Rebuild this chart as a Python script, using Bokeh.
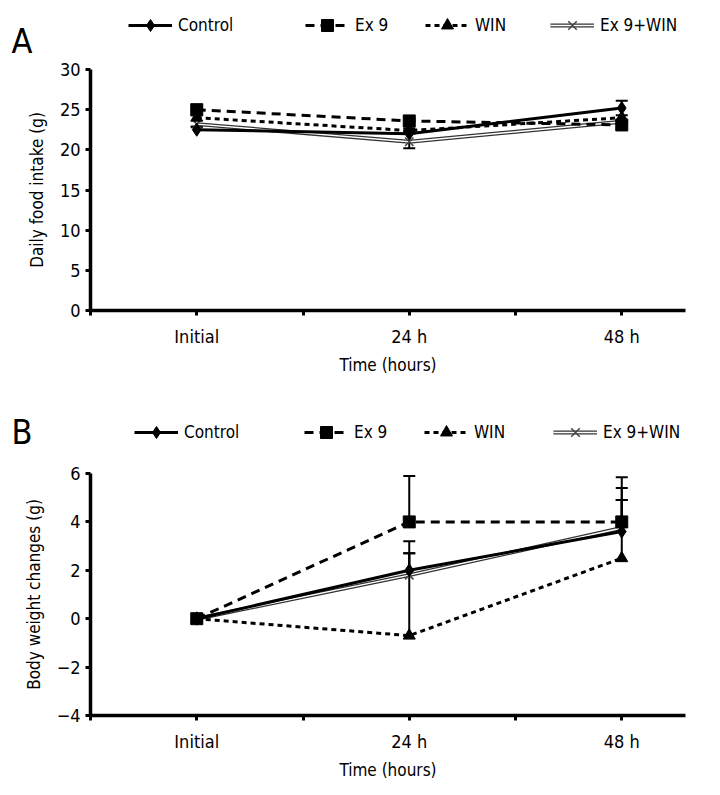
from bokeh.plotting import figure
from bokeh.models import (ColumnDataSource, Whisker, TeeHead, Legend, LegendItem,
                          FixedTicker, Range1d)
from bokeh.layouts import column
from bokeh.embed import file_html
from bokeh.resources import INLINE

FONT = "DejaVu Sans Condensed, Roboto, sans-serif"

categories = ["Initial", "24 h", "48 h"]
series_names = ["Control", "Ex 9", "WIN", "Ex 9+WIN"]

# Panel A: daily food intake (g)
food_control = [22.5, 22.0, 25.2]
food_ex9 = [25.0, 23.6, 23.1]
food_win = [24.0, 22.4, 24.0]
food_ex9win = [23.2, 21.0, 23.5]
food_err_up = {"Control": [0.3, 0.3, 0.9], "Ex 9": [0.3, 0.3, 0.3],
               "WIN": [0.3, 0.3, 0.3], "Ex 9+WIN": [0.0, 0.0, 0.0]}
food_err_down = {"Control": [0.0, 0.0, 0.0], "Ex 9": [0.0, 0.0, 0.0],
                 "WIN": [0.0, 0.0, 0.0], "Ex 9+WIN": [0.3, 0.8, 0.3]}
food_ticks = [0, 5, 10, 15, 20, 25, 30]

# Panel B: body weight changes (g)
bw_control = [0.0, 2.0, 3.6]
bw_ex9 = [0.0, 4.0, 4.0]
bw_win = [0.0, -0.7, 2.5]
bw_ex9win = [0.0, 1.8, 3.75]
bw_err_up = {"Control": [0.0, 1.2, 1.3], "Ex 9": [0.0, 1.9, 1.85],
             "WIN": [0.0, 3.4, 2.4], "Ex 9+WIN": [0.0, 0.9, 1.65]}
bw_err_down = {"Control": [0.0, 0.0, 0.0], "Ex 9": [0.0, 0.0, 0.0],
               "WIN": [0.0, 0.0, 0.0], "Ex 9+WIN": [0.0, 0.0, 0.0]}
bw_ticks = [-4, -2, 0, 2, 4, 6]

x_pos = list(range(len(categories)))
X_END = 2.3

STYLES = {
    "Control": dict(dash="solid", marker="diamond", size=13),
    "Ex 9": dict(dash="9 6", marker="square", size=12),
    "WIN": dict(dash="5 4", marker="triangle", size=12),
    "Ex 9+WIN": dict(dash="solid", marker="x", size=12),
}
BORDER_L, BORDER_R = 90, 19


def draw_series(p, name, src):
    st = STYLES[name]
    rs = []
    if name == "Ex 9+WIN":
        rs.append(p.line("x", "y", source=src, line_color="#333333", line_width=4))
        rs.append(p.line("x", "y", source=src, line_color="white", line_width=1.4))
        rs.append(p.scatter("x", "y", source=src, marker="x", size=st["size"],
                            line_color="#444444", line_width=1.5))
    else:
        rs.append(p.line("x", "y", source=src, line_color="black", line_width=3,
                         line_dash=st["dash"]))
        rs.append(p.scatter("x", "y", source=src, marker=st["marker"], size=st["size"],
                            fill_color="black", line_color="black"))
    return rs


def make_header(letter, series, height, legend_x, legend_y, letter_y):
    # strip above each panel: legend + panel letter (series drawn out of view,
    # only their legend samples show)
    h = figure(width=704, height=height, output_backend="svg", toolbar_location=None,
               x_range=Range1d(-0.5, X_END), y_range=Range1d(100, 100 + height),
               x_axis_location=None, y_axis_location="left",
               min_border_left=BORDER_L, min_border_right=BORDER_R,
               min_border_top=0, min_border_bottom=0)
    h.outline_line_color = None
    h.grid.visible = False
    for name, lx in zip(series_names, legend_x):
        src = ColumnDataSource(dict(x=x_pos, y=series[name]))
        item = LegendItem(label=name, renderers=draw_series(h, name, src))
        lg = Legend(items=[item], location=(lx, legend_y), orientation="horizontal",
                    glyph_width=44, glyph_height=30, label_height=20,
                    label_standoff=6, padding=0, margin=0, spacing=0,
                    border_line_color=None, background_fill_alpha=0,
                    label_text_font=FONT, label_text_font_size="17px",
                    label_text_color="black")
        h.add_layout(lg, "center")
    ya = h.yaxis[0]
    ya.ticker = FixedTicker(ticks=[100 + letter_y])
    ya.major_label_overrides = {100 + letter_y: letter}
    ya.axis_line_color = None
    ya.major_tick_line_color = None
    ya.minor_tick_line_color = None
    ya.major_label_standoff = 52
    ya.major_label_text_font = FONT
    ya.major_label_text_font_size = "34px"
    ya.major_label_text_color = "black"
    return h


def make_panel(series, err_up, err_down, yticks, ylabel, top, fh, bottom):
    p = figure(width=704, height=top + fh + bottom, output_backend="svg",
               toolbar_location=None,
               x_range=Range1d(-0.5, X_END), y_range=Range1d(yticks[0], yticks[-1]),
               min_border_left=BORDER_L, min_border_top=top, min_border_right=BORDER_R,
               min_border_bottom=bottom)
    p.outline_line_color = None
    p.grid.visible = False

    for name in ["Ex 9+WIN", "WIN", "Ex 9", "Control"]:
        vals = series[name]
        draw_series(p, name, ColumnDataSource(dict(x=x_pos, y=vals)))
        # error bars (one-directional, only where present)
        for errs, sign in ((err_up[name], 1), (err_down[name], -1)):
            xs = [x for x, e in zip(x_pos, errs) if e > 0]
            if not xs:
                continue
            base_v = [v for v, e in zip(vals, errs) if e > 0]
            end_v = [v + sign * e for v, e in zip(vals, errs) if e > 0]
            wsrc = ColumnDataSource(dict(x=xs, a=base_v, b=end_v))
            head = TeeHead(size=12, line_color="black", line_width=2)
            if sign > 0:
                w = Whisker(source=wsrc, base="x", lower="a", upper="b", dimension="height",
                            line_color="black", line_width=2, upper_head=head, lower_head=None)
            else:
                w = Whisker(source=wsrc, base="x", lower="b", upper="a", dimension="height",
                            line_color="black", line_width=2, lower_head=head, upper_head=None)
            p.add_layout(w)

    p.xaxis.ticker = FixedTicker(ticks=[-0.5, 0, 0.5, 1, 1.5, 2])
    p.xaxis.major_label_overrides = {0: categories[0], 1: categories[1], 2: categories[2],
                                     -0.5: "", 0.5: "", 1.5: ""}
    p.yaxis.ticker = FixedTicker(ticks=yticks)
    p.yaxis.major_label_overrides = {t: ("\u2212" + str(-t) if t < 0 else str(t)) for t in yticks}
    p.xaxis.axis_label = "Time (hours)"
    p.yaxis.axis_label = ylabel
    for ax in (p.xaxis, p.yaxis):
        ax.axis_line_width = 3.5
        ax.axis_line_color = "black"
        ax.major_tick_line_width = 3
        ax.major_tick_line_color = "black"
        ax.major_tick_out = 5
        ax.major_tick_in = 0
        ax.minor_tick_line_color = None
        ax.major_label_text_font = FONT
        ax.major_label_text_font_size = "18px"
        ax.major_label_text_color = "black"
        ax.axis_label_text_font = FONT
        ax.axis_label_text_font_size = "17px"
        ax.axis_label_text_font_style = "normal"
        ax.axis_label_text_color = "black"
    p.xaxis.major_label_standoff = 10
    p.xaxis.axis_label_standoff = 5
    p.yaxis.major_label_standoff = 5
    p.yaxis.axis_label_standoff = 10
    return p


food = {"Control": food_control, "Ex 9": food_ex9, "WIN": food_win, "Ex 9+WIN": food_ex9win}
bw = {"Control": bw_control, "Ex 9": bw_ex9, "WIN": bw_win, "Ex 9+WIN": bw_ex9win}

ha = make_header("A", food, 60, [38, 215, 335, 460], 20, 20)
pa = make_panel(food, food_err_up, food_err_down, food_ticks,
                "Daily food intake (g)", 9, 241, 70)
hb = make_header("B", bw, 72, [44, 214, 334, 463], 5, 21)
pb = make_panel(bw, bw_err_up, bw_err_down, bw_ticks,
                "Body weight changes (g)", 21, 242, 72)

layout = column(ha, pa, hb, pb, spacing=0)
open("out.html", "w").write(file_html(layout, INLINE))
